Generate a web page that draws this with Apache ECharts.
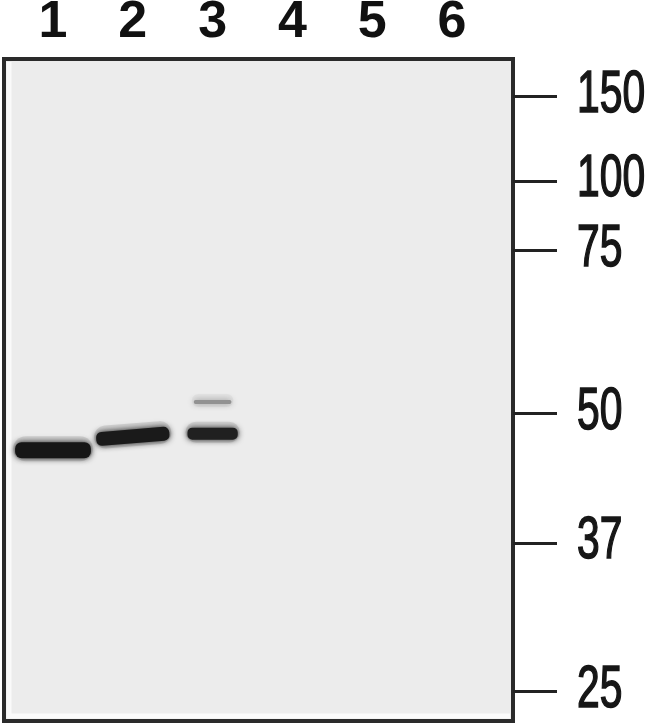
<!DOCTYPE html>
<html>
<head>
<meta charset="utf-8">
<script src="https://cdn.jsdelivr.net/npm/echarts@6/dist/echarts.min.js"></script>
<style>
html,body{margin:0;padding:0;background:#fff;}
#chart{width:650px;height:725px;}
</style>
</head>
<body>
<div id="chart"></div>
<script>
// Lane labels
const lanes = ['1', '2', '3', '4', '5', '6'];
const laneIndex = [1, 2, 3, 4, 5, 6];
// Molecular weight markers (kDa) and their relative migration (% of gel height)
const markerKDa = [150, 100, 75, 50, 37, 25];
const markerMigration = [5.7, 18.4, 28.9, 53.5, 73.1, 95.5];
// Detected bands: lane, relative migration, intensity (0..1)
const bandLane = [1, 2, 3, 3];
const bandMigration = [59.1, 57.0, 56.6, 51.8];
const bandIntensity = [1.0, 0.98, 0.95, 0.35];

// Styling (kept apart from data)
const BAND_SPAN = [0.95, 0.92, 0.63, 0.47];   // fraction of lane spacing
const BAND_THICK = [16, 14, 12, 4];           // px
const BAND_TILT = [0, 6, 0, 0];               // px rise at right end
const FONT = '"Liberation Sans", Arial, sans-serif';

const bandData = bandLane.map((l, i) => [l, bandMigration[i], bandIntensity[i], i]);

const chart = echarts.init(document.getElementById('chart'), null, {renderer: 'canvas'});
chart.setOption({
  animation: false,
  backgroundColor: '#ffffff',
  grid: {
    left: 4, top: 59, right: 137, bottom: 4,
    outerBoundsMode: 'none', containLabel: false,
    show: true, backgroundColor: '#ececec', borderColor: '#2a2a2a', borderWidth: 4
  },
  xAxis: {
    type: 'value', position: 'top', min: 0.386, max: 6.764,
    splitLine: {show: false}, axisLine: {show: false}, axisTick: {show: false},
    axisLabel: {
      customValues: laneIndex, margin: 36, verticalAlign: 'middle',
      formatter: v => lanes[Math.round(v) - 1] || '',
      fontSize: 52, fontWeight: 'bold', fontFamily: FONT, color: '#111'
    }
  },
  yAxis: {
    type: 'value', position: 'right', inverse: true, min: 0, max: 100,
    splitLine: {show: false}, axisLine: {show: false},
    axisTick: {customValues: markerMigration, length: 44, lineStyle: {color: '#222', width: 3}},
    axisLabel: {show: false}
  },
  series: [{
    type: 'custom', z: 5,
    data: bandData,
    renderItem: function (params, api) {
      const idx = api.value(3);
      const c = api.coord([api.value(0), api.value(1)]);
      const spacing = api.size([1, 0])[0];
      const w = BAND_SPAN[idx] * spacing;
      const h = BAND_THICK[idx];
      const inten = api.value(2);
      const g = Math.round(22 + (1 - inten) * 190);
      const col = 'rgb(' + g + ',' + g + ',' + g + ')';
      const rot = Math.atan2(BAND_TILT[idx], w);
      return {
        type: 'group',
        children: [{
          type: 'rect',
          shape: {x: c[0] - w / 2 - 2, y: c[1] - h / 2 - 6, width: w + 4, height: h + 9, r: (h + 9) / 2},
          rotation: rot, originX: c[0], originY: c[1],
          style: {fill: 'rgba(0,0,0,' + (0.10 * inten) + ')', shadowBlur: 10, shadowColor: 'rgba(0,0,0,' + (0.15 * inten) + ')'}
        }, {
          type: 'rect',
          shape: {x: c[0] - w / 2, y: c[1] - h / 2, width: w, height: h, r: h / 2.5},
          rotation: rot, originX: c[0], originY: c[1],
          style: {fill: col, shadowBlur: 6, shadowColor: col}
        }]
      };
    }
  }]
});

// Marker labels: condensed text placed at the y-axis tick positions
const labelX = chart.convertToPixel({gridIndex: 0}, [6.764, 0])[0] + 64;
const markerTexts = markerMigration.map((m, i) => ({
  type: 'text', silent: true, z: 10,
  x: labelX,
  y: chart.convertToPixel({yAxisIndex: 0}, m) - 1,
  scaleX: 0.68,
  style: {
    text: String(markerKDa[i]), fontSize: 60, fontFamily: FONT, fontWeight: 'normal',
    fill: '#161616', stroke: '#161616', lineWidth: 1.6,
    align: 'left', verticalAlign: 'middle'
  }
}));
chart.setOption({
  graphic: [{
    type: 'polyline', silent: true, z: 1,
    shape: {points: [[9, 62], [9, 716], [510, 716]]},
    style: {stroke: '#fafafa', lineWidth: 5, fill: null}
  }].concat(markerTexts)
});
</script>
</body>
</html>
